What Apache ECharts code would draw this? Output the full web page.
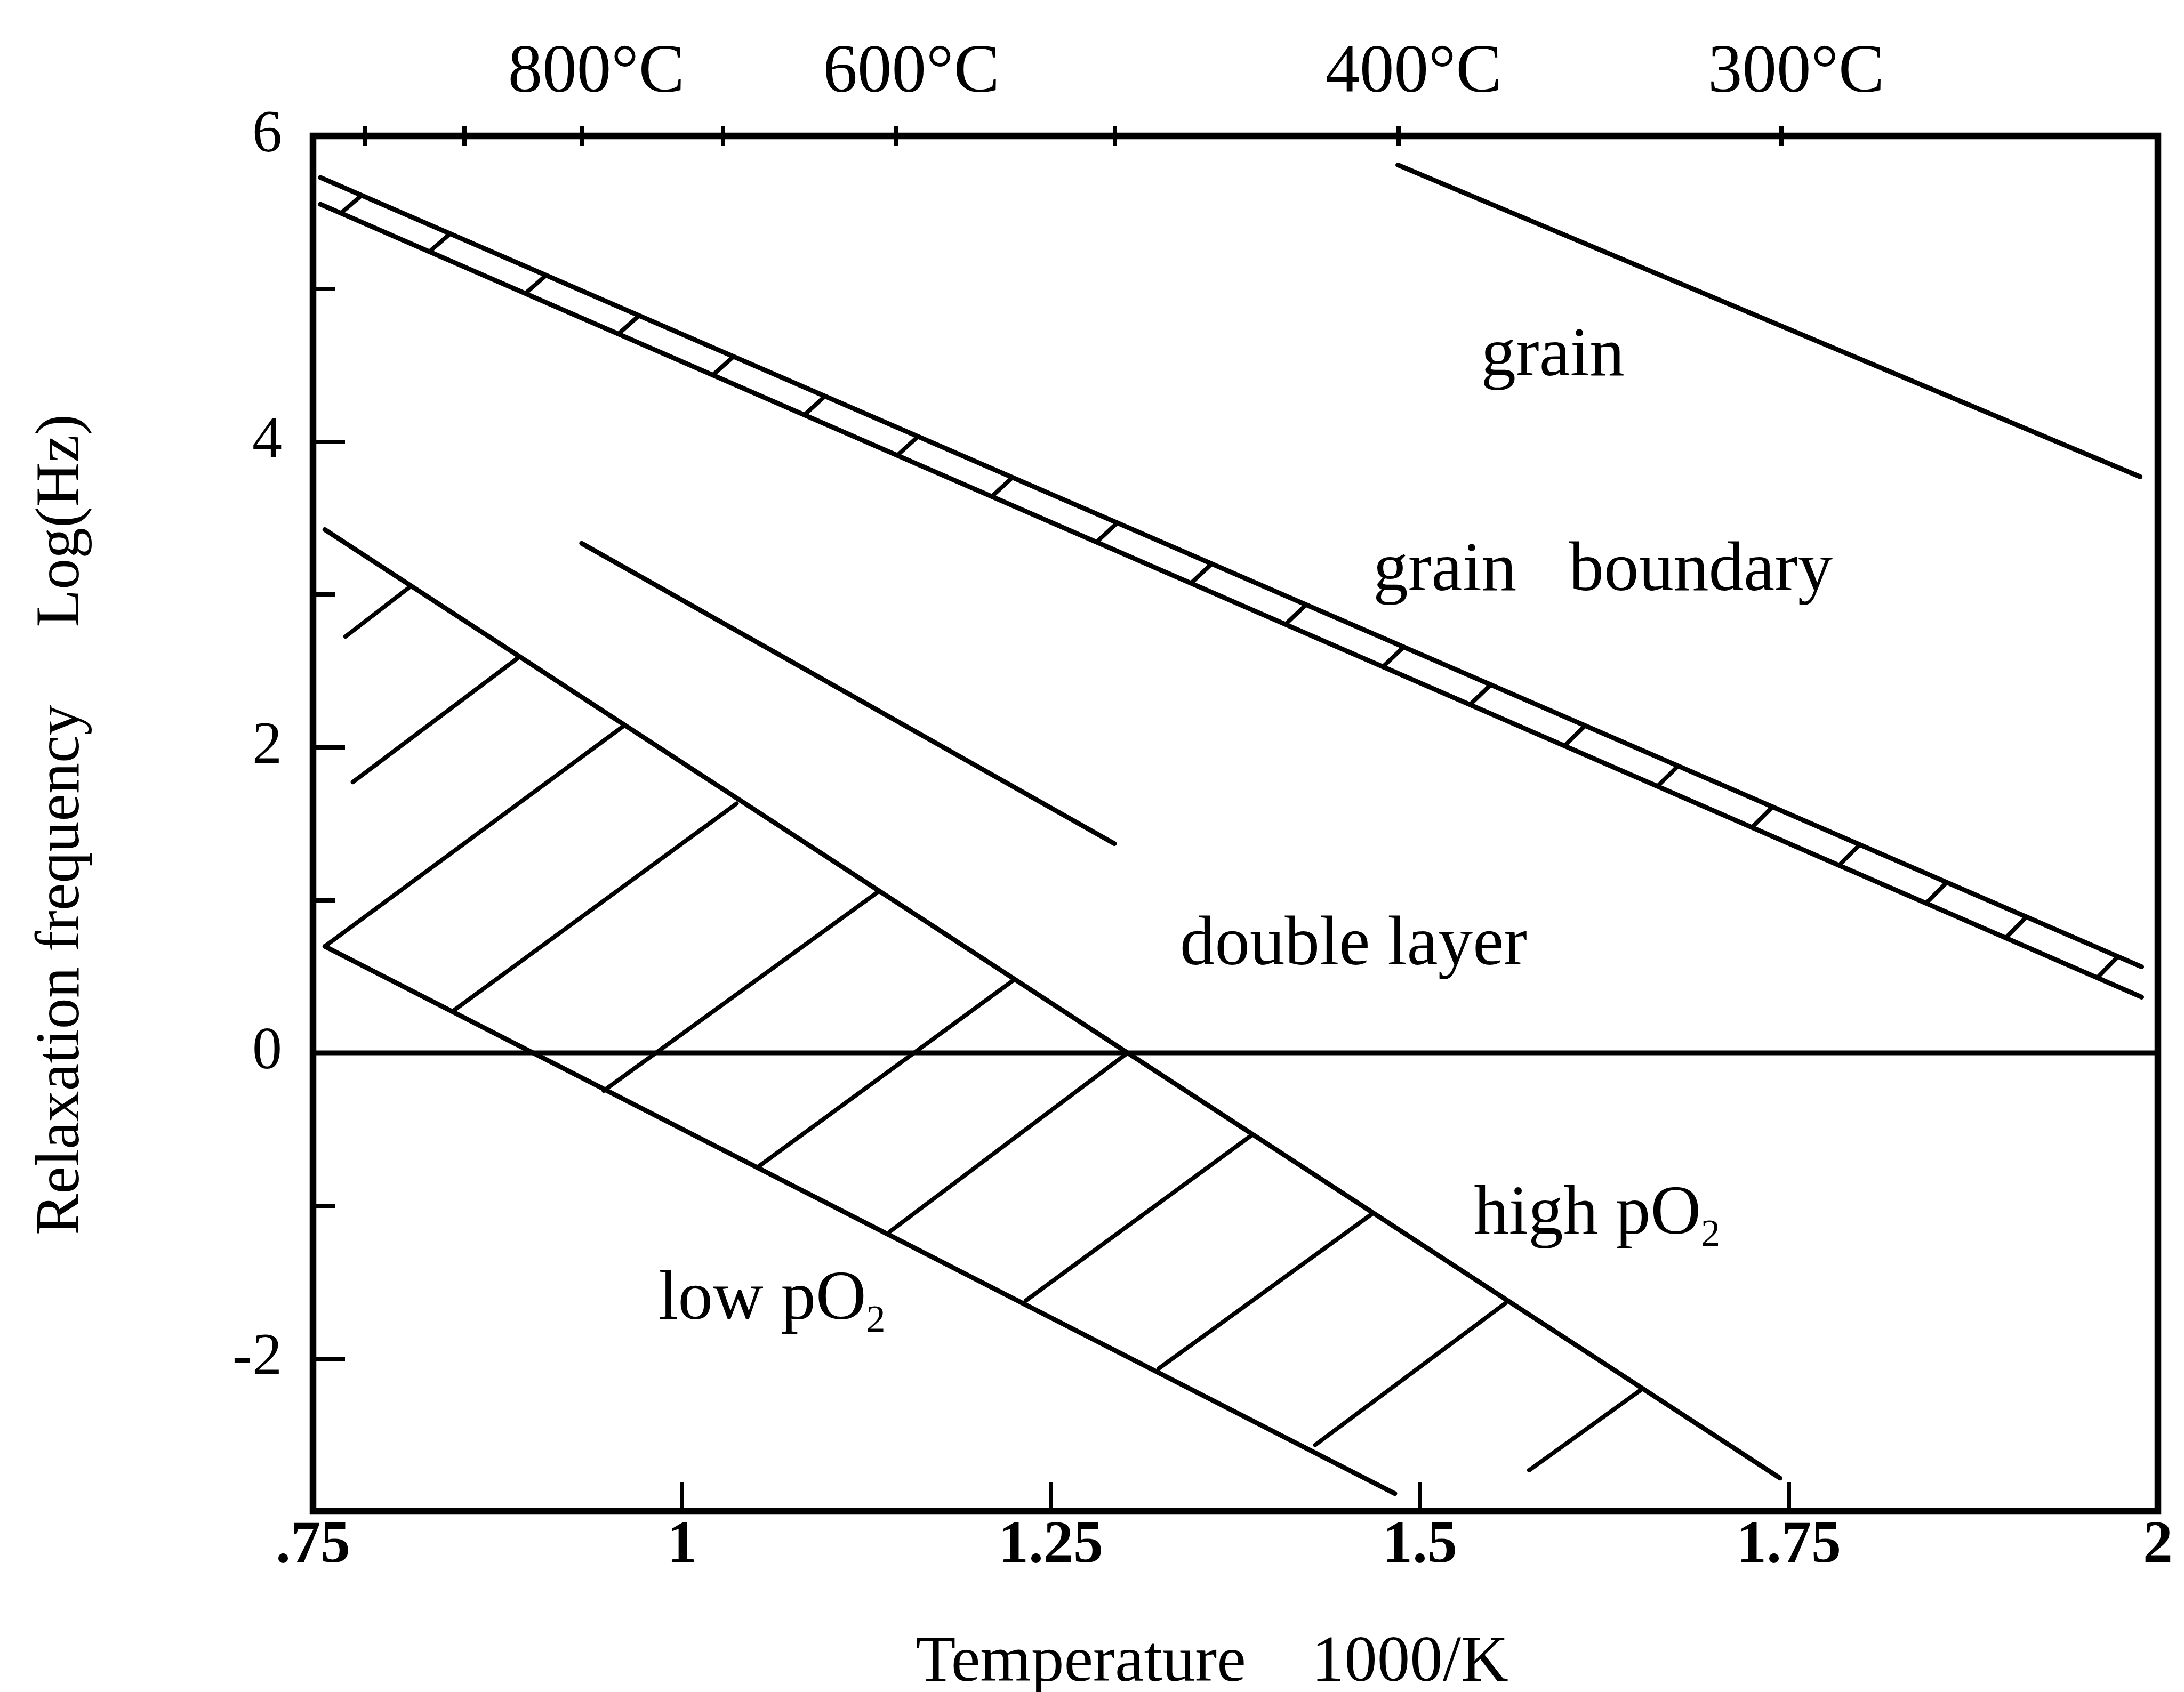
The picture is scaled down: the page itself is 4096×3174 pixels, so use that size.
<!DOCTYPE html>
<html>
<head>
<meta charset="utf-8">
<script src="https://cdn.jsdelivr.net/npm/echarts@6/dist/echarts.min.js"></script>
<style>
  html, body { margin: 0; padding: 0; background: #ffffff; }
  #chart { width: 4096px; height: 3174px; }
</style>
</head>
<body>
<div id="chart"></div>
<script>
// Axis ticks and labels
const xTickValues = [0.75, 1, 1.25, 1.5, 1.75, 2];
const yLabelValues = [-2, 0, 2, 4, 6];
const tempTicksC = [1000, 900, 800, 700, 600, 500, 400, 300];
const tempLabelsC = [800, 600, 400, 300];

// Boundary lines, [1000/K, log(Hz)]
const grainLine = [[1.485, 5.81], [1.988, 3.77]];
const boundaryUpper = [[0.755, 5.728], [1.989, 0.563]];
const boundaryLower = [[0.755, 5.553], [1.989, 0.365]];
const doubleLayerLine = [[0.932, 3.334], [1.293, 1.369]];
const highPO2Line = [[0.758, 3.424], [1.744, -2.783]];
const lowPO2Line = [[0.758, 0.697], [1.483, -2.884]];
const zeroLine = [[0.75, 0], [2, 0]];

// Cross-hatching inside the grain-boundary band
const boundaryHatches = [
  [[0.769, 5.496], [0.783, 5.612]],
  [[0.829, 5.244], [0.843, 5.361]],
  [[0.894, 4.970], [0.908, 5.089]],
  [[0.957, 4.705], [0.971, 4.825]],
  [[1.021, 4.436], [1.035, 4.557]],
  [[1.083, 4.175], [1.097, 4.298]],
  [[1.146, 3.911], [1.160, 4.034]],
  [[1.210, 3.641], [1.224, 3.766]],
  [[1.281, 3.343], [1.295, 3.469]],
  [[1.345, 3.074], [1.359, 3.201]],
  [[1.409, 2.805], [1.423, 2.933]],
  [[1.475, 2.527], [1.489, 2.656]],
  [[1.534, 2.279], [1.548, 2.409]],
  [[1.598, 2.010], [1.612, 2.141]],
  [[1.661, 1.745], [1.675, 1.878]],
  [[1.725, 1.476], [1.739, 1.610]],
  [[1.784, 1.228], [1.798, 1.363]],
  [[1.843, 0.980], [1.857, 1.116]],
  [[1.897, 0.753], [1.911, 0.890]],
  [[1.959, 0.492], [1.973, 0.630]]
];

// Hatching of the double-layer region between low and high pO2
const pO2Hatches = [
  [[0.772, 2.724], [0.815, 3.044]],
  [[0.777, 1.772], [0.889, 2.585]],
  [[0.758, 0.697], [0.960, 2.136]],
  [[0.845, 0.275], [1.037, 1.631]],
  [[0.947, -0.248], [1.132, 1.047]],
  [[1.051, -0.750], [1.224, 0.471]],
  [[1.141, -1.169], [1.302, 0.000]],
  [[1.233, -1.621], [1.385, -0.546]],
  [[1.323, -2.066], [1.467, -1.058]],
  [[1.429, -2.566], [1.558, -1.638]],
  [[1.574, -2.731], [1.650, -2.204]]
];

// Region annotations
const labelTexts = ['grain', 'grain   boundary', 'double layer', 'high pO{s|2}', 'low pO{s|2}'];
const labelX = [1.590, 1.624, 1.455, 1.620, 1.061];
const labelY = [4.554, 3.147, 0.700, -1.062, -1.622];

const FONT = '"Liberation Serif", "Times New Roman", serif';
const INK = '#000000';

const toInvK = c => 1000 / (c + 273.15);
const tempTickVals = tempTicksC.map(toInvK);
const tempLabelVals = tempLabelsC.map(toInvK);

function segment(name, pts, width) {
  return {
    name: name,
    type: 'line',
    data: pts,
    symbol: 'none',
    silent: true,
    lineStyle: { color: INK, width: width, cap: 'round' },
    z: 3
  };
}

function hatchSeries(name, segs) {
  return {
    name: name,
    type: 'lines',
    coordinateSystem: 'cartesian2d',
    silent: true,
    data: segs.map(s => ({ coords: s })),
    lineStyle: { color: INK, width: 8, opacity: 1, curveness: 0, cap: 'round' },
    z: 3
  };
}

const chart = echarts.init(document.getElementById('chart'), null, { renderer: 'canvas' });

chart.setOption({
  animation: false,
  backgroundColor: '#ffffff',
  grid: {
    left: 587, right: 49, top: 255, bottom: 339,
    show: true, borderColor: INK, borderWidth: 12.5, backgroundColor: 'transparent'
  },
  xAxis: [
    {
      type: 'value', min: 0.75, max: 2, interval: 0.25, position: 'bottom',
      axisLine: { show: false, onZero: false },
      axisTick: { show: true, inside: true, length: 54, lineStyle: { color: INK, width: 8 } },
      axisLabel: {
        margin: 10, color: INK, fontFamily: FONT, fontSize: 112, fontWeight: 'bold',
        formatter: v => (v === 0.75 ? '.75' : String(v))
      },
      splitLine: { show: false }
    },
    {
      type: 'value', min: 0.75, max: 2, position: 'top',
      axisLine: { show: false, onZero: false },
      axisTick: { show: true, inside: false, length: 18, customValues: tempTickVals, lineStyle: { color: INK, width: 8 } },
      axisLabel: {
        customValues: tempLabelVals, margin: 52, color: INK, fontFamily: FONT, fontSize: 129,
        padding: [0, 0, 0, 56],
        formatter: v => Math.round(1000 / v - 273.15) + '°C'
      },
      splitLine: { show: false }
    },
    {
      type: 'value', min: 0.75, max: 2, position: 'top',
      axisLine: { show: false, onZero: false },
      axisTick: { show: true, inside: true, length: 18, customValues: tempTickVals, lineStyle: { color: INK, width: 8 } },
      axisLabel: { show: false },
      splitLine: { show: false }
    }
  ],
  yAxis: [
    {
      type: 'value', min: -3, max: 6, interval: 1, position: 'left',
      axisLine: { show: false, onZero: false },
      axisTick: { show: true, inside: true, length: 41, lineStyle: { color: INK, width: 8 } },
      axisLabel: { customValues: yLabelValues, margin: 58, color: INK, fontFamily: FONT, fontSize: 112 },
      splitLine: { show: false }
    },
    {
      type: 'value', min: -3, max: 6, position: 'left',
      axisLine: { show: false, onZero: false },
      axisTick: { show: true, inside: true, length: 60, customValues: yLabelValues, lineStyle: { color: INK, width: 8 } },
      axisLabel: { show: false },
      splitLine: { show: false }
    }
  ],
  series: [
    segment('zero', zeroLine, 9),
    segment('grain', grainLine, 9),
    segment('boundary upper', boundaryUpper, 9),
    segment('boundary lower', boundaryLower, 9),
    segment('double layer', doubleLayerLine, 9),
    segment('high pO2', highPO2Line, 9),
    segment('low pO2', lowPO2Line, 9),
    hatchSeries('boundary hatching', boundaryHatches),
    hatchSeries('pO2 hatching', pO2Hatches),
    {
      name: 'annotations',
      type: 'scatter',
      silent: true,
      symbol: 'circle',
      symbolSize: 0,
      itemStyle: { color: INK, opacity: 1 },
      data: labelTexts.map((t, i) => ({ value: [labelX[i], labelY[i]], name: t })),
      label: {
        show: true,
        position: 'inside',
        align: 'center',
        verticalAlign: 'middle',
        color: INK,
        opacity: 1,
        textBorderWidth: 0,
        fontFamily: FONT,
        fontSize: 131,
        lineHeight: 150,
        formatter: p => p.name,
        rich: {
          s: { fontFamily: FONT, fontSize: 72, lineHeight: 72, verticalAlign: 'bottom', color: INK }
        }
      },
      z: 4
    }
  ],
  graphic: [
    {
      type: 'text', x: 2273, y: 3121, silent: true,
      style: { text: 'Temperature    1000/K', fill: INK, fontFamily: FONT, fontSize: 123, align: 'center', verticalAlign: 'middle' }
    },
    {
      type: 'text', x: 117, y: 1547, rotation: Math.PI / 2, silent: true,
      style: { text: 'Relaxation frequency     Log(Hz)', fill: INK, fontFamily: FONT, fontSize: 116, align: 'center', verticalAlign: 'middle' }
    }
  ]
});
</script>
</body>
</html>
